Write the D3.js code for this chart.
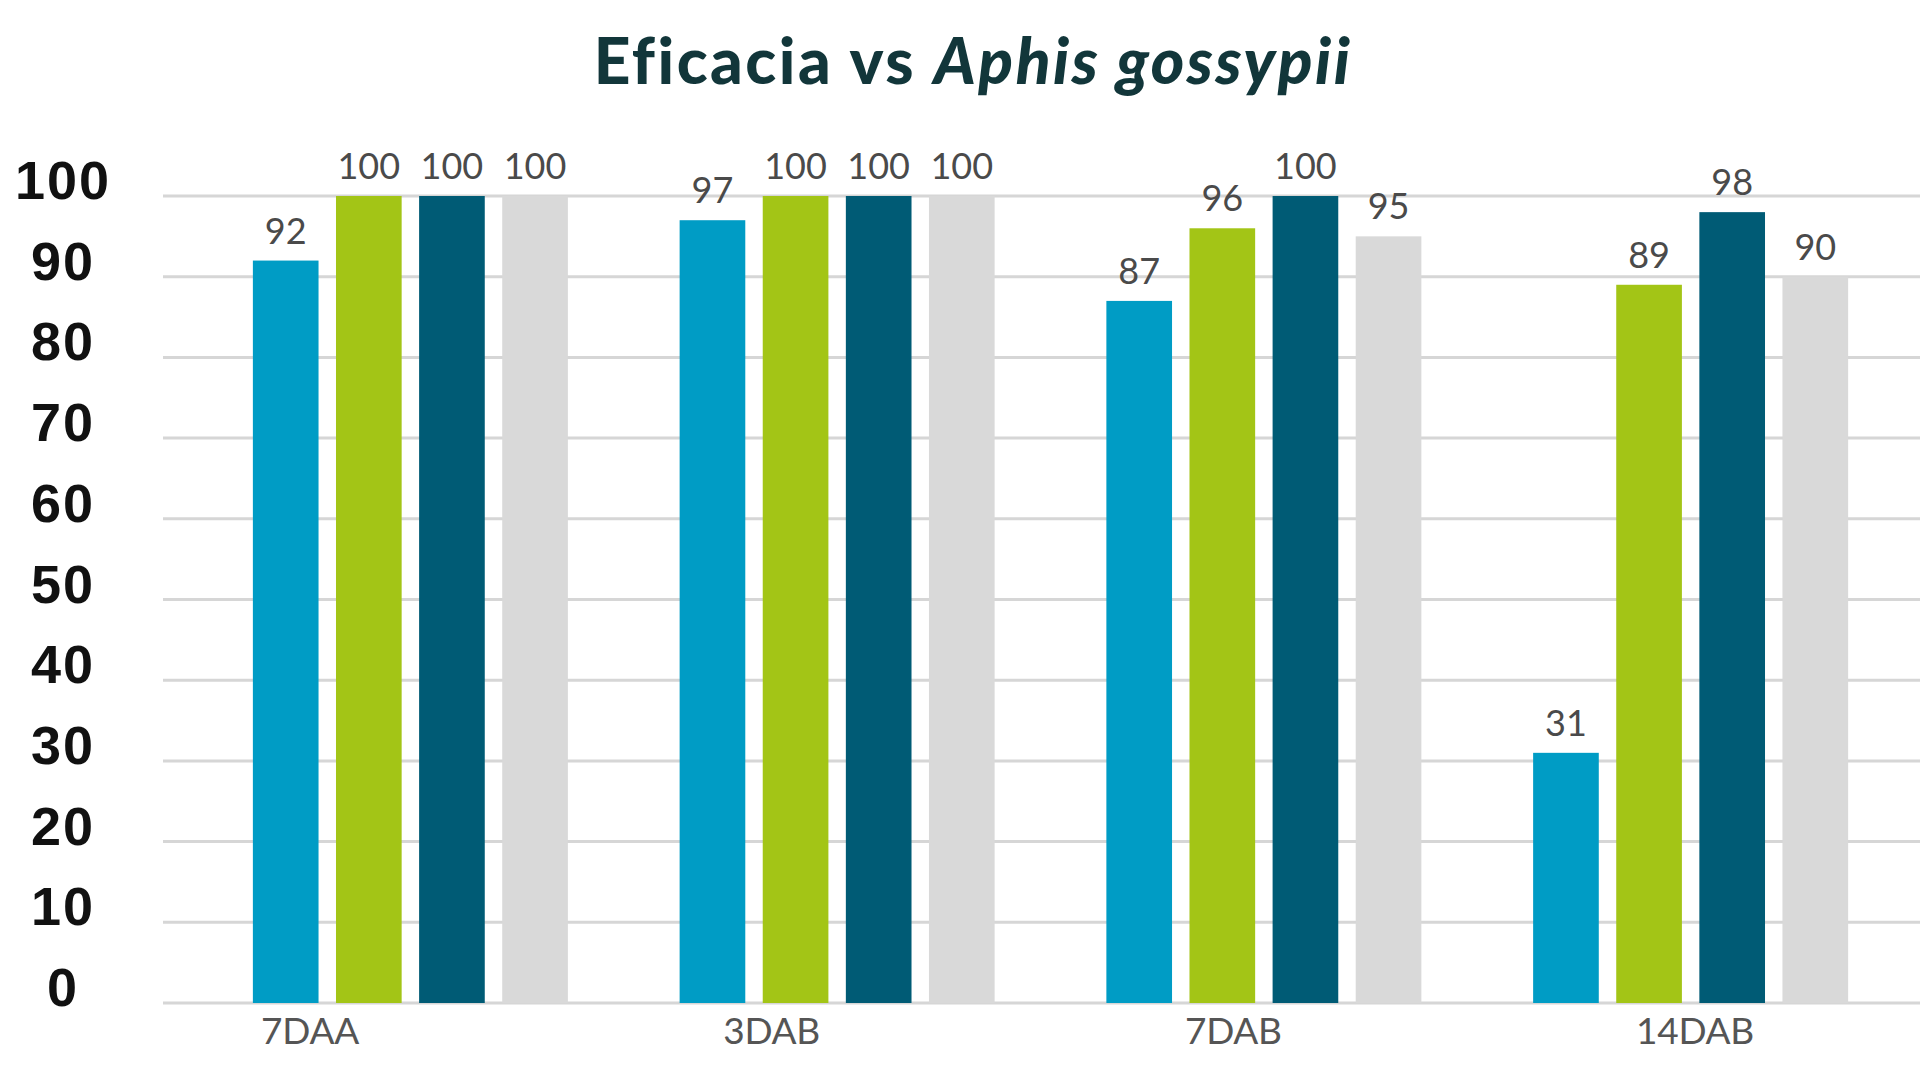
<!DOCTYPE html>
<html><head><meta charset="utf-8">
<script src="https://cdn.jsdelivr.net/npm/d3@7"></script>
<style>html,body{margin:0;padding:0;background:#fff;}svg{display:block;}</style>
</head><body>
<svg id="c" width="1920" height="1080"></svg>
<script>
const categories = ["7DAA", "3DAB", "7DAB", "14DAB"];
const seriesNames = ["s1", "s2", "s3", "s4"];
const s1 = [92, 97, 87, 31];
const s2 = [100, 100, 96, 89];
const s3 = [100, 100, 100, 98];
const s4 = [100, 100, 95, 90];
const yTicks = [0, 10, 20, 30, 40, 50, 60, 70, 80, 90, 100];
const colors = ["#009cc5", "#a3c516", "#005b75", "#d9d9d9"];

const seriesValues = [s1, s2, s3, s4];
const data = categories.map((c, i) => ({cat: c, vals: seriesNames.map((s, j) => ({s, v: seriesValues[j][i]}))}));

const svg = d3.select("#c");
const y = d3.scaleLinear().domain([0, 100]).range([1003, 196]);
const x0 = d3.scaleBand().domain(categories).range([197, 1904]).padding(0);
const x1 = d3.scaleBand().domain(seriesNames).range([x0.bandwidth()/2 - 157.5, x0.bandwidth()/2 + 157.5]).paddingInner(0.21).paddingOuter(0);
const xl = d3.scalePoint().domain(categories).range([310, 1695]);

// gridlines
svg.append("g").selectAll("line").data(yTicks).join("line")
  .attr("x1", 163).attr("x2", 1920)
  .attr("y1", d => y(d)).attr("y2", d => y(d))
  .attr("stroke", "#d6d6d6").attr("stroke-width", 3);

// y labels
svg.append("g").selectAll("text").data(yTicks).join("text")
  .attr("x", 63).attr("y", d => y(d) + 3)
  .attr("text-anchor", "middle")
  .attr("font-family", "'Liberation Sans', Arial, sans-serif")
  .attr("font-weight", "bold").attr("font-size", 54).attr("fill", "#111")
  .attr("letter-spacing", 2)
  .text(d => d);

// bars
const g = svg.append("g").selectAll("g").data(data).join("g")
  .attr("transform", d => `translate(${x0(d.cat)},0)`);
g.selectAll("rect").data(d => d.vals).join("rect")
  .attr("x", d => x1(d.s)).attr("width", x1.bandwidth())
  .attr("y", d => y(d.v)).attr("height", d => y(0) - y(d.v))
  .attr("fill", (d, i) => colors[i]);
g.selectAll("text").data(d => d.vals).join("text")
  .attr("x", d => x1(d.s) + x1.bandwidth()/2).attr("y", d => y(d.v) - 17)
  .attr("text-anchor", "middle")
  .attr("font-family", "Lato, 'Open Sans', sans-serif")
  .attr("font-size", 36).attr("fill", "#4a4a4a")
  .text(d => d.v);

// x labels
svg.append("g").selectAll("text").data(categories).join("text")
  .attr("x", d => xl(d)).attr("y", 1044)
  .attr("text-anchor", "middle")
  .attr("font-family", "Lato, 'Open Sans', sans-serif")
  .attr("font-size", 37).attr("fill", "#555").attr("letter-spacing", -0.3)
  .text(d => d);

// title
const t = svg.append("text").attr("x", 973).attr("y", 84)
  .attr("text-anchor", "middle")
  .attr("font-family", "Lato, 'Open Sans', sans-serif")
  .attr("font-weight", "900").attr("font-size", 64).attr("fill", "#12363a")
  .attr("letter-spacing", 2.5);
t.append("tspan").text("Eficacia vs ");
t.append("tspan").attr("font-style", "italic").text("Aphis gossypii");
</script>
</body></html>
